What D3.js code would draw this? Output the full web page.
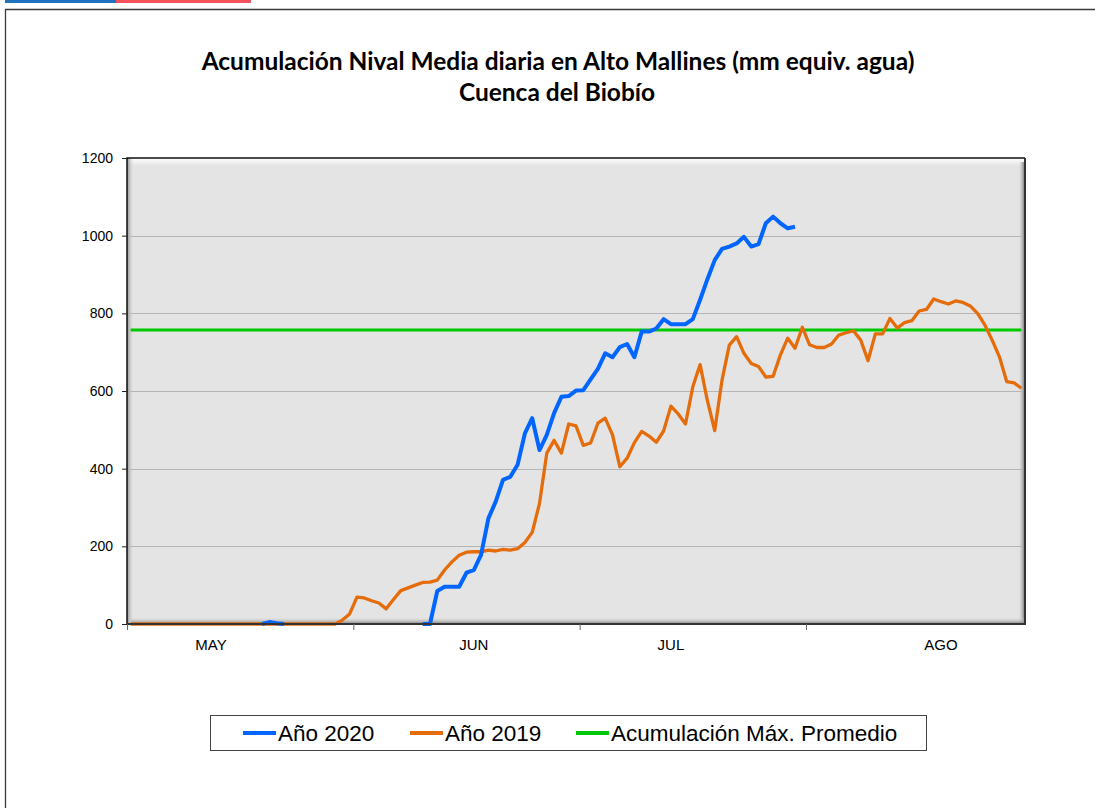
<!DOCTYPE html>
<html>
<head>
<meta charset="utf-8">
<script src="https://cdnjs.cloudflare.com/ajax/libs/d3/7.8.5/d3.min.js"></script>
<style>
  body { margin: 0; background: #fff; }
  svg { display: block; }
</style>
</head>
<body>
<div id="chart"></div>
<script>
// datos diarios desde el 1 de mayo (mm equiv. agua); null = sin dato
var anio2020 = [null,null,null,null,null,null,null,null,null,null, null,null,null,null,null,null,null,null,0,5,
  2,0,null,null,null,null,null,null,null,null, null,null,null,null,null,null,null,null,null,null,
  0,0,85,96,96,96,132,139,178,272, 315,371,379,410,491,530,448,487,543,585,
  587,601,602,630,657,697,687,713,721,687, 753,753,761,785,772,772,772,785,835,888,
  937,966,972,980,997,972,978,1032,1049,1032, 1019,1023];

var anio2019 = [0,0,0,0,0,0,0,0,0,0, 0,0,0,0,0,0,0,0,0,0, 0,0,0,0,0,0,0,0,0,10,
  26,69,67,60,54,39,63,86,93,100, 107,108,113,139,160,177,185,186,186,190,
  188,192,190,194,210,236,310,440,473,440, 515,510,460,466,517,530,487,405,427,467,
  496,484,468,497,561,541,515,611,668,575, 498,628,718,740,697,671,663,636,638,693,
  736,710,764,719,712,712,721,744,750,755, 731,678,747,747,787,762,776,781,806,810,
  837,830,824,832,828,819,800,770,731,688, 624,621,607];

var acumMaxProm = 757;
var nDias = 123;
var meses = ["MAY", "JUN", "JUL", "AGO"];
var mesDia = [11, 47, 74, 111];
var xTicks = [0, 31, 62, 93];
var yTicks = [0, 200, 400, 600, 800, 1000, 1200];

var width = 1095, height = 808;
var plot = {left: 127, top: 158, right: 1025, bottom: 624};

var x = d3.scaleLinear().domain([0, nDias]).range([plot.left, plot.right]);
var y = d3.scaleLinear().domain([0, 1200]).range([plot.bottom, plot.top]);

var svg = d3.select("#chart").append("svg")
    .attr("width", width)
    .attr("height", height);

var defs = svg.append("defs");
function grad(id, x1, y1, x2, y2, stops) {
  var g = defs.append("linearGradient").attr("id", id)
    .attr("x1", x1).attr("y1", y1).attr("x2", x2).attr("y2", y2);
  stops.forEach(function(s) {
    g.append("stop").attr("offset", s[0]).attr("stop-color", s[1]).attr("stop-opacity", s[2]);
  });
}
grad("gTop", 0, 0, 0, 1, [["0%", "#ffffff", 1], ["100%", "#ffffff", 0]]);
grad("gLeft", 0, 0, 1, 0, [["0%", "#8a8a8a", 1], ["100%", "#e4e4e4", 0]]);
grad("gRight", 0, 0, 1, 0, [["0%", "#e4e4e4", 0], ["100%", "#666666", 1]]);
grad("gBottom", 0, 0, 0, 1, [["0%", "#e4e4e4", 0], ["100%", "#7a7a7a", 1]]);

// barra superior
svg.append("rect").attr("x", 5).attr("y", 0).attr("width", 111).attr("height", 3).attr("fill", "#1f72c0");
svg.append("rect").attr("x", 116).attr("y", 0).attr("width", 135).attr("height", 3).attr("fill", "#f4535c");

// marco
svg.append("path")
    .attr("d", "M5.5,812 L5.5,9.5 L1100,9.5")
    .attr("fill", "none")
    .attr("stroke", "#3a3a3a")
    .attr("stroke-width", 1.3);

// titulo
var titulo = svg.append("g")
    .attr("font-family", "Lato, 'Open Sans', sans-serif")
    .attr("font-weight", "bold")
    .attr("fill", "#000")
    .attr("text-anchor", "middle");
var t1 = titulo.append("text").attr("x", 558).attr("y", 70).attr("font-size", 20)
    .text("Acumulación Nival Media diaria en Alto Mallines (mm equiv. agua)");
var fs = 20 * 713 / t1.node().getComputedTextLength();
t1.attr("font-size", fs);
titulo.append("text").attr("x", 557).attr("y", 101).attr("font-size", fs)
    .text("Cuenca del Biobío");

// area del grafico
var pw = plot.right - plot.left, ph = plot.bottom - plot.top;
svg.append("rect").attr("x", plot.left).attr("y", plot.top).attr("width", pw).attr("height", ph).attr("fill", "#e4e4e4");
svg.append("rect").attr("x", plot.left).attr("y", plot.top).attr("width", pw).attr("height", 8).attr("fill", "url(#gTop)");
svg.append("rect").attr("x", plot.left).attr("y", plot.top).attr("width", 7).attr("height", ph).attr("fill", "url(#gLeft)");
svg.append("rect").attr("x", plot.right - 7).attr("y", plot.top + 4).attr("width", 7).attr("height", ph - 4).attr("fill", "url(#gRight)");
svg.append("rect").attr("x", plot.left + 4).attr("y", plot.bottom - 7).attr("width", pw - 4).attr("height", 7).attr("fill", "url(#gBottom)");

// grilla
svg.append("g").selectAll("line")
  .data(yTicks.filter(function(d) { return d > 0 && d < 1200; }))
  .join("line")
    .attr("x1", plot.left + 3).attr("x2", plot.right - 3)
    .attr("y1", function(d) { return Math.round(y(d)) + 0.5; })
    .attr("y2", function(d) { return Math.round(y(d)) + 0.5; })
    .attr("stroke", "#b5b5b5")
    .attr("stroke-width", 1);

// series
var line = d3.line()
    .defined(function(d) { return d !== null; })
    .x(function(d, i) { return x(i + 0.5); })
    .y(function(d) { return y(d); });

svg.append("line")
    .attr("x1", x(0.5)).attr("x2", x(nDias - 0.5))
    .attr("y1", y(acumMaxProm)).attr("y2", y(acumMaxProm))
    .attr("stroke", "#00c800").attr("stroke-width", 3);

svg.append("path").datum(anio2019)
    .attr("d", line)
    .attr("fill", "none")
    .attr("stroke", "#e46c0a")
    .attr("stroke-width", 3.3)
    .attr("stroke-linejoin", "round");

svg.append("path").datum(anio2020)
    .attr("d", line)
    .attr("fill", "none")
    .attr("stroke", "#0066ff")
    .attr("stroke-width", 4)
    .attr("stroke-linejoin", "round");

// bordes del area
svg.append("path")
    .attr("d", "M" + plot.left + "," + plot.bottom + " L" + plot.left + "," + plot.top + " L" + plot.right + "," + plot.top)
    .attr("fill", "none").attr("stroke", "#111").attr("stroke-width", 1.5);
svg.append("path")
    .attr("d", "M" + plot.right + "," + plot.top + " L" + plot.right + "," + plot.bottom + " L" + plot.left + "," + plot.bottom)
    .attr("fill", "none").attr("stroke", "#333").attr("stroke-width", 2);

// ejes
var yAxis = svg.append("g")
    .attr("transform", "translate(" + plot.left + ",0)")
    .call(d3.axisLeft(y).tickValues(yTicks).tickSize(5).tickPadding(9).tickFormat(d3.format("d")));
yAxis.select(".domain").remove();
yAxis.selectAll("line").attr("stroke", "#222");
yAxis.selectAll("text")
    .attr("font-family", "'Liberation Sans', Arial, sans-serif")
    .attr("font-size", 14)
    .attr("fill", "#000");

var xAxis = svg.append("g")
    .attr("transform", "translate(0," + plot.bottom + ")")
    .call(d3.axisBottom(x).tickValues(xTicks).tickSize(6).tickFormat(""));
xAxis.select(".domain").remove();
xAxis.selectAll("line").attr("stroke", "#666");

svg.append("g").selectAll("text")
  .data(meses)
  .join("text")
    .attr("x", function(d, i) { return x(mesDia[i] + 0.5); })
    .attr("y", 650)
    .attr("text-anchor", "middle")
    .attr("font-family", "'Liberation Sans', Arial, sans-serif")
    .attr("font-size", 15)
    .attr("fill", "#000")
    .text(function(d) { return d; });

// leyenda
var leyenda = [
  {nombre: "Año 2020", color: "#0066ff", x: 243},
  {nombre: "Año 2019", color: "#e46c0a", x: 410},
  {nombre: "Acumulación Máx. Promedio", color: "#00c800", x: 576}
];
svg.append("rect")
    .attr("x", 210.5).attr("y", 715.5).attr("width", 716).attr("height", 35)
    .attr("fill", "#fff").attr("stroke", "#444").attr("stroke-width", 1);
var li = svg.append("g").selectAll("g").data(leyenda).join("g");
li.append("line")
    .attr("x1", function(d) { return d.x; })
    .attr("x2", function(d) { return d.x + 33; })
    .attr("y1", 733).attr("y2", 733)
    .attr("stroke", function(d) { return d.color; })
    .attr("stroke-width", 4);
li.append("text")
    .attr("x", function(d) { return d.x + 35; })
    .attr("y", 741)
    .attr("font-family", "'Liberation Sans', Arial, sans-serif")
    .attr("font-size", 22.5)
    .attr("fill", "#000")
    .text(function(d) { return d.nombre; });
</script>
</body>
</html>
